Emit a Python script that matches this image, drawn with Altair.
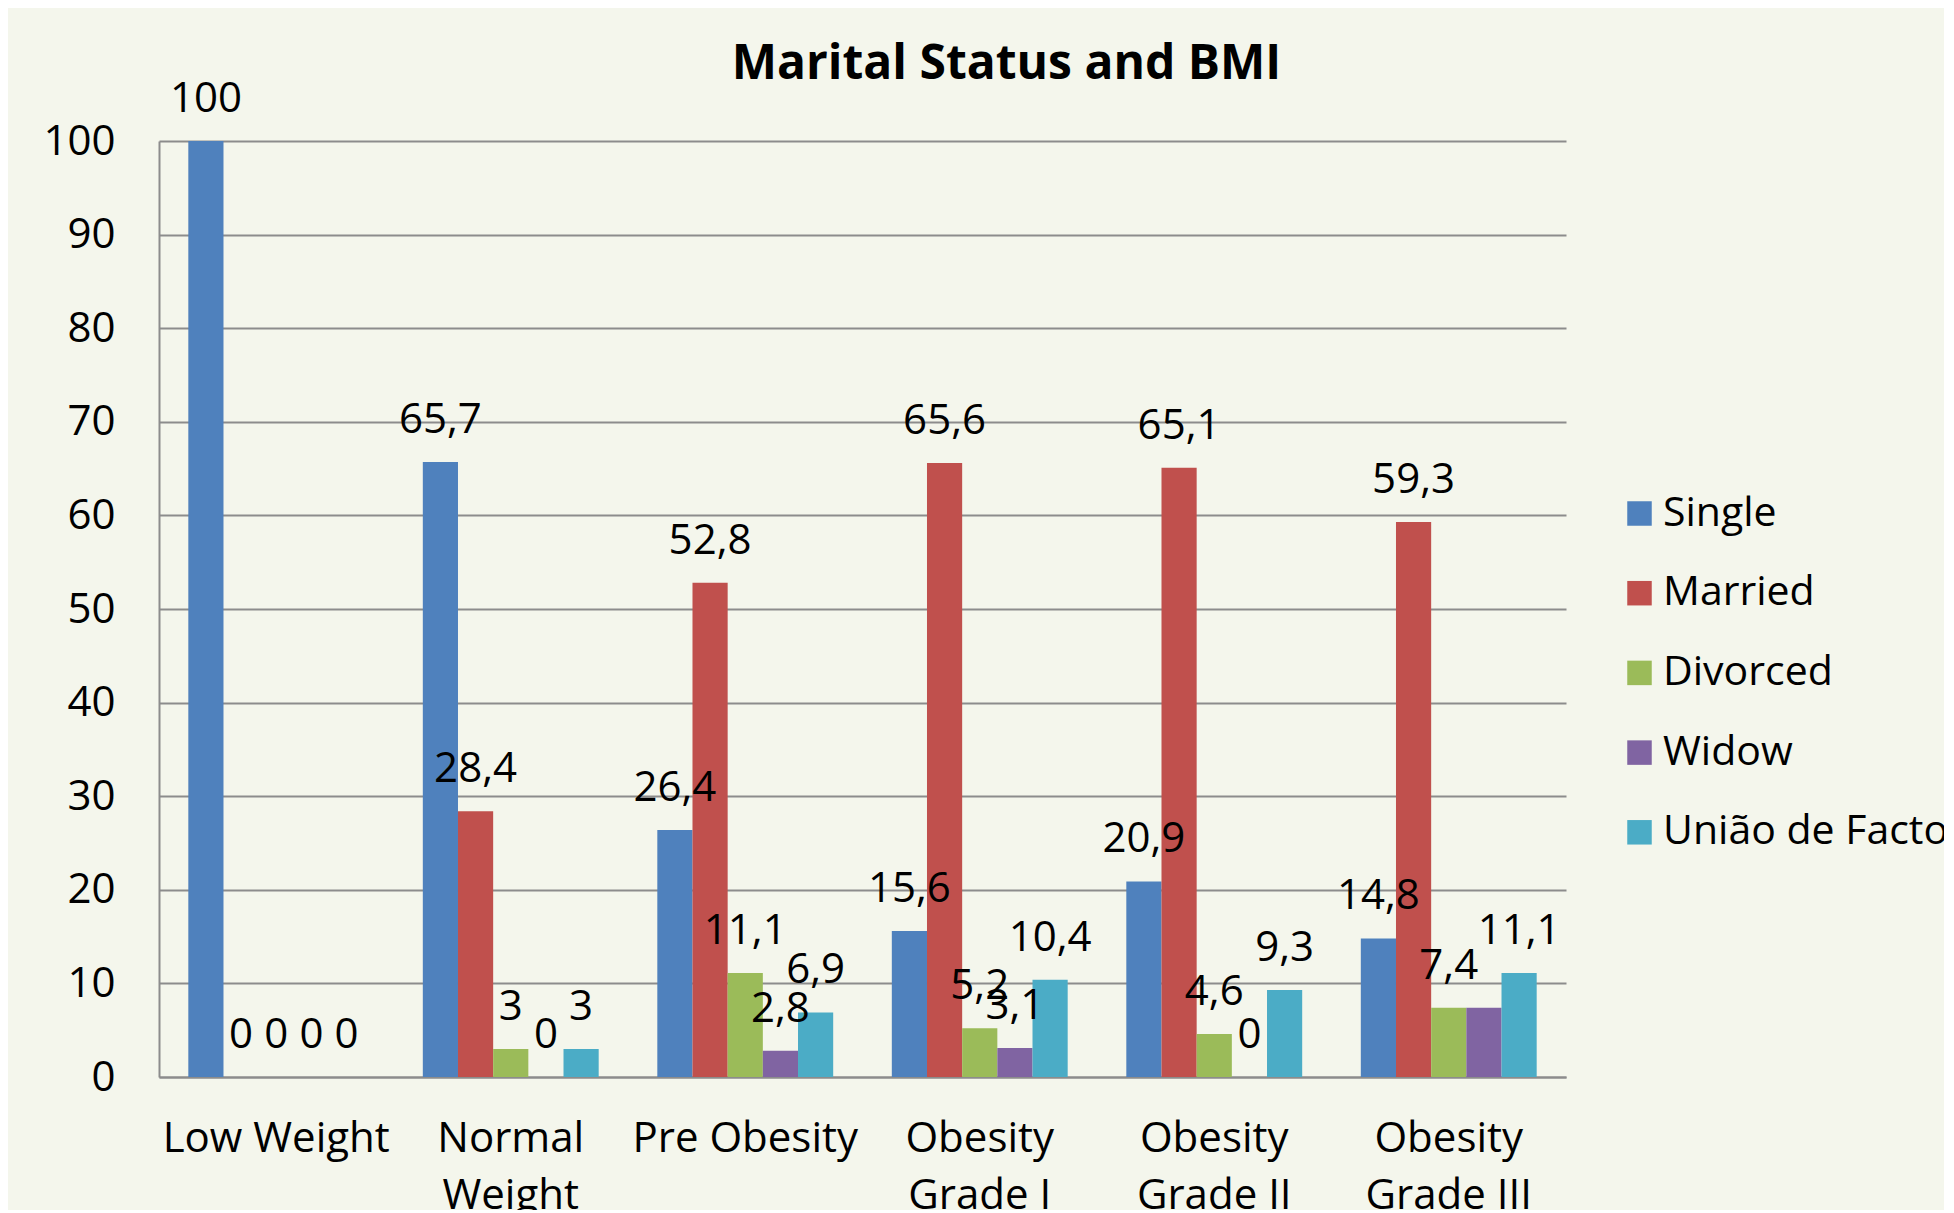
import altair as alt
import pandas as pd

categories = ["Low Weight", "Normal Weight", "Pre Obesity", "Obesity Grade I",
              "Obesity Grade II", "Obesity Grade III"]
category_lines = [["Low Weight"], ["Normal", "Weight"], ["Pre Obesity"],
                  ["Obesity", "Grade I"], ["Obesity", "Grade II"], ["Obesity", "Grade III"]]
series = ["Single", "Married", "Divorced", "Widow", "União de Facto"]
single = [100, 65.7, 26.4, 15.6, 20.9, 14.8]
married = [0, 28.4, 52.8, 65.6, 65.1, 59.3]
divorced = [0, 3, 11.1, 5.2, 4.6, 7.4]
widow = [0, 0, 2.8, 3.1, 0, 7.4]
uniao = [0, 3, 6.9, 10.4, 9.3, 11.1]
colors = ["#4F81BD", "#C0504D", "#9BBB59", "#8064A2", "#4BACC6"]
# labels not shown in the reference
hidden_labels = [("Widow", "Obesity Grade III")]

values = [single, married, divorced, widow, uniao]


def fmt(v):
    if float(v).is_integer():
        return str(int(v))
    return str(v).replace(".", ",")


rows = []
for s, vals in zip(series, values):
    for c, v in zip(categories, vals):
        lab = "" if (s, c) in hidden_labels else fmt(v)
        rows.append({"category": c, "series": s, "value": v, "label": lab})
df = pd.DataFrame(rows)

# label expression for multi-line category labels
expr = "datum.label"
for c, lines in reversed(list(zip(categories, category_lines))):
    arr = "[" + ",".join("'" + l + "'" for l in lines) + "]"
    expr = f"datum.label == '{c}' ? {arr} : ({expr})"

FONT = "Open Sans"
FS = 42

x = alt.X("category:N", sort=categories, title=None,
          scale=alt.Scale(paddingInner=0.25, paddingOuter=0.125),
          axis=alt.Axis(labelAngle=0, labelExpr=expr, labelFontSize=FS,
                        labelFont=FONT, labelColor="#000000", ticks=False,
                        labelPadding=41, labelLineHeight=57, labelLimit=500,
                        domainColor="#8c8c8c", domainWidth=2, grid=False,
                        labelBaseline="top"))
xo = alt.XOffset("series:N", sort=series, scale=alt.Scale(paddingInner=0, paddingOuter=0))
y = alt.Y("value:Q", title=None,
          scale=alt.Scale(domain=[0, 100], nice=False),
          axis=alt.Axis(values=list(range(0, 101, 10)), labelFontSize=FS,
                        labelFont=FONT, labelColor="#000000", ticks=False,
                        labelPadding=44, domainColor="#8c8c8c", domainWidth=2,
                        gridColor="#8c8c8c", gridWidth=2))

bars = alt.Chart(df).mark_bar().encode(
    x=x, xOffset=xo, y=y,
    color=alt.Color("series:N", sort=series,
                    scale=alt.Scale(domain=series, range=colors),
                    legend=alt.Legend(title=None, orient="none", legendX=1460,
                                      legendY=352, symbolType="square",
                                      symbolSize=600, symbolStrokeWidth=0,
                                      labelFontSize=41, labelFont=FONT,
                                      labelColor="#000000", labelOffset=3,
                                      rowPadding=37.7, labelLimit=500)),
)

text = alt.Chart(df).mark_text(font=FONT, fontSize=FS, baseline="alphabetic",
                               dy=-29, color="#000000").encode(
    x=alt.X("category:N", sort=categories),
    xOffset=alt.XOffset("series:N", sort=series),
    y="value:Q",
    text="label:N",
)

chart = (bars + text).properties(
    width=1407, height=936,
    background="#F4F6EC",
    padding={"left": 151, "top": 133, "right": 378, "bottom": 133},
    autosize=alt.AutoSizeParams(type="none"),
    title=alt.TitleParams("Marital Status and BMI", font=FONT, fontSize=48,
                          fontWeight="bold", color="#000000", anchor="middle",
                          dx=144, offset=-11),
).configure_view(stroke=None)

chart.save("out.html", embed_options={"renderer": "svg", "actions": False})
